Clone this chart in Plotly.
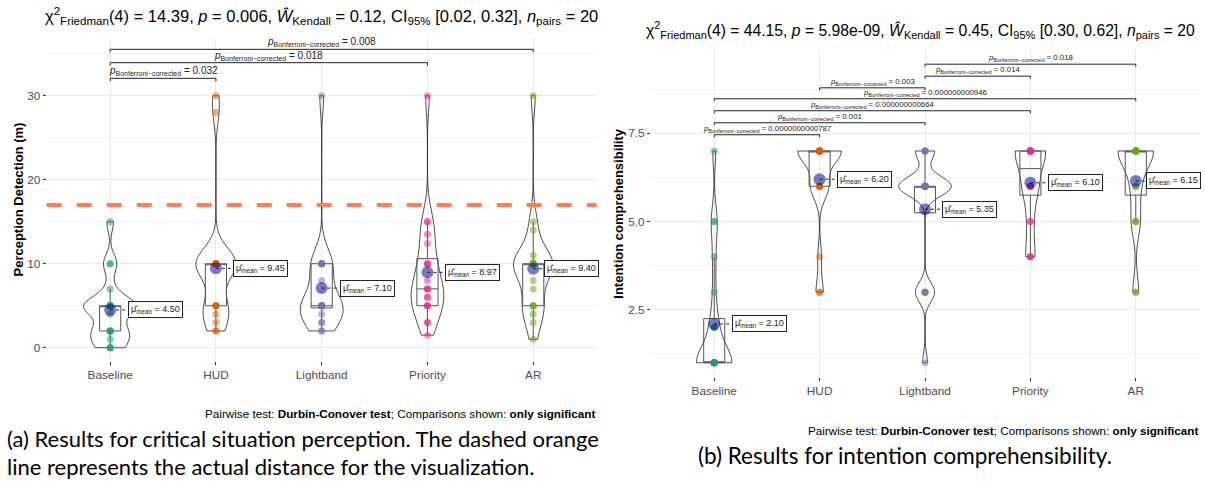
import numpy as np
import plotly.graph_objects as go

# ---------------- data ----------------
categories = ["Baseline", "HUD", "Lightband", "Priority", "AR"]

# (a) Perception detection distance (m), 20 participants per condition
perc_baseline = [0, 0, 0, 1, 2, 2, 2, 2, 4, 5, 5, 5, 5, 5, 5, 5, 7, 10, 10, 15]
perc_hud = [2, 2, 3, 4, 5, 5, 5, 5, 10, 10, 10, 10, 10, 10, 10, 10, 10, 10, 28, 30]
perc_lightband = [2, 2, 3, 3, 4, 5, 5, 5, 5, 5, 5, 5, 5, 8, 10, 10, 10, 10, 10, 30]
perc_priority = [1.5, 3, 3, 5, 5, 5, 6, 6, 7, 7, 7, 8, 10, 10, 10, 12.4, 13.5, 15, 15, 30]
perc_ar = [1, 3, 4, 5, 5, 5, 7, 8, 10, 10, 10, 10, 10, 10, 10, 10, 11, 14, 15, 30]
actual_distance = 17

perc_title = ("χ<sup>2</sup><sub>Friedman</sub>(4) = 14.39, <i>p</i> = 0.006, "
              "<i>Ŵ</i><sub>Kendall</sub> = 0.12, CI<sub>95%</sub> [0.02, 0.32], "
              "<i>n</i><sub>pairs</sub> = 20")
perc_pairs = [(1, 2), (1, 4), (1, 5)]
perc_pvalues = ["0.032", "0.018", "0.008"]

# (b) Intention comprehensibility (1-7), 20 participants per condition
int_baseline = [1, 1, 1, 1, 1, 1, 1, 1, 1, 1, 1, 1, 2, 2, 2, 3, 4, 5, 5, 7]
int_hud = [3, 3, 4, 6, 6, 6, 6, 6, 7, 7, 7, 7, 7, 7, 7, 7, 7, 7, 7, 7]
int_lightband = [1, 3, 3, 3, 3, 6, 6, 6, 6, 6, 6, 6, 6, 6, 6, 6, 7, 7, 7, 7]
int_priority = [4, 4, 4, 5, 5, 6, 6, 6, 6, 6, 7, 7, 7, 7, 7, 7, 7, 7, 7, 7]
int_ar = [3, 3, 5, 5, 5, 6, 6, 6, 7, 7, 7, 7, 7, 7, 7, 7, 7, 7, 7, 7]

int_title = ("χ<sup>2</sup><sub>Friedman</sub>(4) = 44.15, <i>p</i> = 5.98e-09, "
             "<i>Ŵ</i><sub>Kendall</sub> = 0.45, CI<sub>95%</sub> [0.30, 0.62], "
             "<i>n</i><sub>pairs</sub> = 20")
int_pairs = [(1, 2), (1, 3), (1, 4), (1, 5), (2, 3), (3, 4), (3, 5)]
int_pvalues = ["0.0000000000787", "0.001", "0.000000000664", "0.000000000946",
               "0.003", "0.014", "0.018"]

footnote = "Pairwise test: <b>Durbin-Conover test</b>; Comparisons shown: <b>only significant</b>"
caption_a1 = "(a) Results for critical situation perception. The dashed orange"
caption_a2 = "line represents the actual distance for the visualization."
caption_b = "(b) Results for intention comprehensibility."

# ---------------- style ----------------
W, H = 1205, 483
FONT = "Liberation Sans, Arial, sans-serif"
CAP_FONT = "Lato, sans-serif"
dark2 = ["#1B9E77", "#D95F02", "#7570B3", "#E7298A", "#66A61E"]
positions = [1, 2, 3, 4, 5]
INK = "#222222"


def bw_nrd0(v):
    v = np.asarray(v, float)
    hi = v.std(ddof=1)
    q75, q25 = np.percentile(v, [75, 25])
    lo = min(hi, (q75 - q25) / 1.34)
    if lo == 0:
        lo = hi if hi > 0 else 1.0
    return 0.9 * lo * len(v) ** -0.2


def max_density(v, bw):
    v = np.asarray(v, float)
    grid = np.linspace(v.min(), v.max(), 512)
    d = np.exp(-0.5 * ((grid[:, None] - v[None, :]) / bw) ** 2).sum(1)
    return (d / (len(v) * bw * np.sqrt(2 * np.pi))).max()


def box_stats(v):
    v = np.asarray(v, float)
    q1, med, q3 = np.percentile(v, [25, 50, 75])  # type-7 quantiles, as in ggplot2
    iqr = q3 - q1
    lf = v[v >= q1 - 1.5 * iqr].min()
    uf = v[v <= q3 + 1.5 * iqr].max()
    return q1, med, q3, lf, uf


fig = go.Figure()


def add_panel(groups, xa, ya, label_off, pairs, pvals, bracket_y, tip, pfont):
    bws = [bw_nrd0(v) for v in groups]
    md = [max_density(v, b) for v, b in zip(groups, bws)]
    widths = [0.5 * m / max(md) for m in md]
    for i, v in enumerate(groups):
        pos = positions[i]
        fig.add_trace(go.Violin(
            x0=pos, y=v, xaxis=xa, yaxis=ya, width=widths[i], bandwidth=bws[i],
            spanmode="hard", scalemode="width", points=False,
            line=dict(color=INK, width=0.8), fillcolor="rgba(0,0,0,0)",
            showlegend=False, hoverinfo="skip"))
        q1, med, q3, lf, uf = box_stats(v)
        fig.add_trace(go.Box(
            x=[pos], q1=[q1], median=[med], q3=[q3], lowerfence=[lf], upperfence=[uf],
            xaxis=xa, yaxis=ya, width=0.2, boxpoints=False,
            whiskerwidth=0, fillcolor="rgba(0,0,0,0)",
            line=dict(color="#555555", width=1), showlegend=False, hoverinfo="skip"))
    for i, v in enumerate(groups):
        pos = positions[i]
        fig.add_trace(go.Scatter(
            x=[pos] * len(v), y=v, xaxis=xa, yaxis=ya, mode="markers",
            marker=dict(size=7, color=dark2[i], opacity=0.5, line=dict(width=0)),
            showlegend=False, hoverinfo="skip"))
    means = [float(np.mean(v)) for v in groups]
    for i, m in enumerate(means):
        pos = positions[i]
        fig.add_trace(go.Scatter(
            x=[pos, pos + label_off[i]], y=[m, m], xaxis=xa, yaxis=ya, mode="lines",
            line=dict(color=INK, width=1, dash="dot"), showlegend=False, hoverinfo="skip"))
        fig.add_annotation(
            x=pos + label_off[i], y=m, xref=xa, yref=ya, xanchor="left",
            text=f"μ̂<sub>mean</sub> = {m:.2f}", showarrow=False,
            font=dict(family=FONT, size=9, color=INK), bgcolor="white",
            bordercolor=INK, borderwidth=1, borderpad=2)
    fig.add_trace(go.Scatter(
        x=positions, y=means, xaxis=xa, yaxis=ya, mode="markers",
        marker=dict(size=12, color="rgba(0,0,139,0.52)", line=dict(width=0)),
        showlegend=False, hoverinfo="skip"))
    for (a, b), p, yb in zip(pairs, pvals, bracket_y):
        fig.add_trace(go.Scatter(
            x=[a, a, b, b], y=[yb - tip, yb, yb, yb - tip], xaxis=xa, yaxis=ya,
            mode="lines", line=dict(color=INK, width=1), cliponaxis=False,
            showlegend=False, hoverinfo="skip"))
        fig.add_annotation(
            x=(a + b) / 2, y=yb, xref=xa, yref=ya, yanchor="bottom", yshift=-1,
            text=f"<i>p</i><sub>Bonferroni−corrected</sub> = {p}", showarrow=False,
            font=dict(family=FONT, size=pfont, color=INK))


add_panel([perc_baseline, perc_hud, perc_lightband, perc_priority, perc_ar], "x", "y",
          [0.17, 0.16, 0.17, 0.17, 0.10], perc_pairs, perc_pvalues,
          [32.07, 33.93, 35.52], 0.35, 10)
add_panel([int_baseline, int_hud, int_lightband, int_priority, int_ar], "x2", "y2",
          [0.165, 0.165, 0.16, 0.165, 0.095], int_pairs, int_pvalues,
          [7.46, 7.80, 8.14, 8.48, 8.79, 9.12, 9.46], 0.07, 7.8)

fig.add_shape(type="line", xref="x domain", yref="y", x0=0, x1=1,
              y0=actual_distance, y1=actual_distance, layer="above",
              line=dict(color="#FF7F50", width=4, dash="15px,15px"))

xa_common = dict(range=[0.4, 5.6], tickmode="array", tickvals=positions, ticktext=categories,
                 showgrid=True, gridcolor="#EBEBEB", gridwidth=1, zeroline=False,
                 ticks="outside", ticklen=3, tickcolor="#333333", showline=False,
                 tickfont=dict(family=FONT, size=11.8, color="#4D4D4D"))
ya_common = dict(showgrid=True, gridcolor="#EBEBEB", gridwidth=1, zeroline=False,
                 ticks="outside", ticklen=3, tickcolor="#333333", showline=False,
                 tickfont=dict(family=FONT, size=11.8, color="#4D4D4D"))

fig.update_layout(
    width=W, height=H, autosize=False, margin=dict(l=0, r=0, t=0, b=0),
    paper_bgcolor="white", plot_bgcolor="white", showlegend=False,
    violinmode="overlay", boxmode="overlay",
    xaxis=dict(domain=[46.7 / W, 596.7 / W], anchor="y", **xa_common),
    yaxis=dict(domain=[1 - 361 / H, 1 - 38 / H], anchor="x", range=[-1.58, 36.87],
               tickmode="array", tickvals=[0, 10, 20, 30],
               minor=dict(dtick=5, tick0=0, showgrid=True, gridcolor="#F3F3F3", gridwidth=0.8),
               **ya_common),
    xaxis2=dict(domain=[651 / W, 1199 / W], anchor="y2", **xa_common),
    yaxis2=dict(domain=[1 - 376.5 / H, 1 - 49 / H], anchor="x2", range=[0.61, 9.89],
                tickmode="array", tickvals=[2.5, 5.0, 7.5], ticktext=["2.5", "5.0", "7.5"],
                minor=dict(dtick=1.25, tick0=0, showgrid=True, gridcolor="#F3F3F3", gridwidth=0.8),
                **ya_common),
)

ann = []
ann.append(dict(x=321.7 / W, y=1 - 16 / H, text=perc_title, font=dict(family=FONT, size=16.5, color="black")))
ann.append(dict(x=921 / W, y=1 - 30 / H, text=int_title, font=dict(family=FONT, size=15.7, color="black")))
ann.append(dict(x=18 / W, y=1 - 199.5 / H, text="<b>Perception Detection (m)</b>", textangle=-90,
                font=dict(family=FONT, size=13, color="black")))
ann.append(dict(x=619 / W, y=1 - 212.7 / H, text="<b>Intention comprehensibility</b>", textangle=-90,
                font=dict(family=FONT, size=13, color="black")))
ann.append(dict(x=597 / W, y=1 - 413 / H, text=footnote, xanchor="right",
                font=dict(family=FONT, size=11.7, color="black")))
ann.append(dict(x=1200 / W, y=1 - 430 / H, text=footnote, xanchor="right",
                font=dict(family=FONT, size=11.7, color="black")))
ann.append(dict(x=5 / W, y=1 - 438 / H, text=caption_a1, xanchor="left",
                font=dict(family=CAP_FONT, size=22, color="black")))
ann.append(dict(x=5 / W, y=1 - 466 / H, text=caption_a2, xanchor="left",
                font=dict(family=CAP_FONT, size=22, color="black")))
ann.append(dict(x=696 / W, y=1 - 455 / H, text=caption_b, xanchor="left",
                font=dict(family=CAP_FONT, size=22.5, color="black")))
for a in ann:
    a.setdefault("xanchor", "center")
    fig.add_annotation(xref="paper", yref="paper", showarrow=False, yanchor="middle", **a)

fig.write_html("out.html", config={"displayModeBar": False},
               post_script="document.body.style.margin='0px';document.body.style.overflow='hidden';")
